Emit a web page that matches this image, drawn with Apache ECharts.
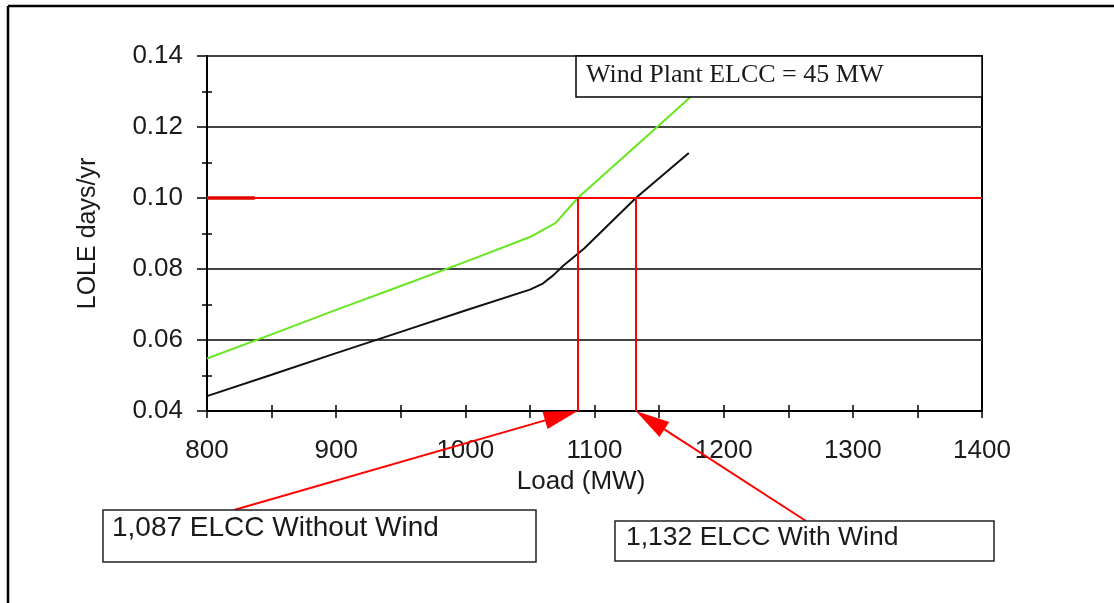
<!DOCTYPE html>
<html>
<head>
<meta charset="utf-8">
<title>LOLE vs Load</title>
<script src="https://cdn.jsdelivr.net/npm/echarts@6/dist/echarts.min.js"></script>
<style>
  html, body { margin: 0; padding: 0; background: #fff; }
  #chart { width: 1114px; height: 603px; }
</style>
</head>
<body>
<div id="chart"></div>
<script>
// Load (MW) and LOLE (days/yr) for the system without the wind plant
const loadWithoutWind = [800, 850, 900, 950, 1000, 1050, 1070, 1087, 1150, 1176];
const loleWithoutWind = [0.0548, 0.0616, 0.0685, 0.0752, 0.0820, 0.0890, 0.0930, 0.1000, 0.1205, 0.1290];

// Load (MW) and LOLE (days/yr) for the system with the wind plant
const loadWithWind = [800, 850, 900, 950, 1000, 1050, 1060, 1068, 1076, 1092, 1132, 1173];
const loleWithWind = [0.0442, 0.0502, 0.0563, 0.0623, 0.0683, 0.0742, 0.0759, 0.0782, 0.0810, 0.0858, 0.1000, 0.1127];

// Reliability target and resulting ELCC points
const targetLole = 0.10;
const elccWithoutWind = 1087;
const elccWithWind = 1132;
const windPlantElcc = elccWithWind - elccWithoutWind;

// Axis ranges and tick spacing
const xMin = 800, xMax = 1400, xTickStep = 50, xLabelStep = 100;
const yMin = 0.04, yMax = 0.14, yLabelStep = 0.02;

const SANS = '"Liberation Sans", Arial, sans-serif';
const SERIF = '"Liberation Serif", "Times New Roman", serif';

const zip = (xs, ys) => xs.map((x, i) => [x, ys[i]]);
const fmtInt = v => v.toLocaleString('en-US');

const chart = echarts.init(document.getElementById('chart'), null, { renderer: 'canvas' });

chart.setOption({
  animation: false,
  backgroundColor: '#fff',
  grid: { left: 207, right: 132, top: 56, bottom: 192, show: true, borderColor: '#000', borderWidth: 2, backgroundColor: 'transparent' },
  xAxis: [
    {
      type: 'value', min: xMin, max: xMax, interval: xTickStep, position: 'bottom',
      axisLine: { show: true, lineStyle: { color: '#000', width: 2 } },
      axisTick: { show: true, length: 7, lineStyle: { color: '#000', width: 1.5 } },
      axisLabel: {
        formatter: v => (v % xLabelStep === 0 ? String(v) : ''),
        fontFamily: SANS, fontSize: 26, color: '#1a1a1a', margin: 27
      },
      splitLine: { show: false },
      name: 'Load (MW)', nameLocation: 'middle', nameGap: 58,
      nameTextStyle: { fontFamily: SANS, fontSize: 26, color: '#1a1a1a', padding: [0, 27, 0, 0] }
    },
    {
      type: 'value', min: xMin, max: xMax, interval: xTickStep, position: 'bottom',
      axisLine: { show: false },
      axisTick: { show: true, inside: true, length: 6, lineStyle: { color: '#000', width: 1.5 } },
      axisLabel: { show: false },
      splitLine: { show: false }
    }
  ],
  yAxis: [
    {
      type: 'value', min: yMin, max: yMax, interval: yLabelStep, position: 'left',
      axisLine: { show: true, lineStyle: { color: '#000', width: 2 } },
      axisTick: { show: true, length: 10, lineStyle: { color: '#000', width: 1.5 } },
      minorTick: { show: true, splitNumber: 2, length: 5, lineStyle: { color: '#000', width: 1.5 } },
      axisLabel: {
        formatter: v => v.toFixed(2),
        fontFamily: SANS, fontSize: 26, color: '#1a1a1a', margin: 24
      },
      splitLine: { show: true, lineStyle: { color: '#444', width: 2 } },
      name: 'LOLE days/yr', nameLocation: 'middle', nameGap: 106, nameRotate: 90,
      nameTextStyle: { fontFamily: SANS, fontSize: 25, color: '#1a1a1a' }
    },
    {
      type: 'value', min: yMin, max: yMax, interval: yLabelStep, position: 'left',
      axisLine: { show: false },
      axisTick: { show: false, inside: true },
      minorTick: { show: true, splitNumber: 2, length: 5, lineStyle: { color: '#000', width: 1.5 } },
      axisLabel: { show: false },
      splitLine: { show: false }
    }
  ],
  series: [
    {
      name: 'Without Wind', type: 'line', xAxisIndex: 0, yAxisIndex: 0,
      data: zip(loadWithoutWind, loleWithoutWind),
      symbol: 'none', smooth: false, z: 4,
      lineStyle: { color: '#66e61e', width: 2 }
    },
    {
      name: 'With Wind', type: 'line', xAxisIndex: 0, yAxisIndex: 0,
      data: zip(loadWithWind, loleWithWind),
      symbol: 'none', smooth: false, z: 4,
      lineStyle: { color: '#111', width: 2 }
    },
    {
      name: 'Target', type: 'line', xAxisIndex: 0, yAxisIndex: 0, data: [], z: 3,
      markLine: {
        silent: true, symbol: ['none', 'none'], label: { show: false },
        lineStyle: { type: 'solid', color: '#ff0000', width: 2 },
        data: [
          { yAxis: targetLole },
          [{ coord: [xMin, targetLole], lineStyle: { color: '#e00000', width: 3.5 } }, { coord: [837, targetLole] }],
          [{ coord: [elccWithoutWind, yMin] }, { coord: [elccWithoutWind, targetLole] }],
          [{ coord: [elccWithWind, yMin] }, { coord: [elccWithWind, targetLole] }]
        ]
      }
    }
  ]
});

// Callout arrows from the text boxes to the ELCC points on the load axis
function arrow(tail, tip, headLen, halfWidth) {
  const dx = tip[0] - tail[0], dy = tip[1] - tail[1];
  const len = Math.hypot(dx, dy);
  const ux = dx / len, uy = dy / len;
  const bx = tip[0] - ux * headLen, by = tip[1] - uy * headLen;
  const px = -uy * halfWidth, py = ux * halfWidth;
  return [
    { type: 'line', z: 50, shape: { x1: tail[0], y1: tail[1], x2: bx, y2: by }, style: { stroke: '#ff0000', lineWidth: 2 } },
    { type: 'polygon', z: 50, shape: { points: [tip, [bx + px, by + py], [bx - px, by - py]] }, style: { fill: '#ff0000' } }
  ];
}

const tipWithout = chart.convertToPixel({ xAxisIndex: 0, yAxisIndex: 0 }, [elccWithoutWind, yMin]);
const tipWith = chart.convertToPixel({ xAxisIndex: 0, yAxisIndex: 0 }, [elccWithWind, yMin]);

function textEl(text, x, y, font) {
  return {
    type: 'text', z: 101,
    style: { text, x, y, font, fill: '#1a1a1a', align: 'left', verticalAlign: 'middle', textAlign: 'left', textVerticalAlign: 'middle' }
  };
}

chart.setOption({
  graphic: [
    // page frame
    { type: 'line', z: 1, shape: { x1: 8, y1: 6, x2: 1114, y2: 6 }, style: { stroke: '#000', lineWidth: 2.5 } },
    { type: 'line', z: 1, shape: { x1: 8, y1: 6, x2: 8, y2: 603 }, style: { stroke: '#000', lineWidth: 2.5 } },
    // wind plant box
    { type: 'rect', z: 100, shape: { x: 576, y: 56, width: 406, height: 41 }, style: { fill: '#fff', stroke: '#000', lineWidth: 1.5 } },
    textEl('Wind Plant ELCC = ' + windPlantElcc + ' MW', 586, 75, '26px ' + SERIF),
    // callout boxes
    { type: 'rect', z: 100, shape: { x: 103, y: 510, width: 433, height: 52 }, style: { fill: '#fff', stroke: '#222', lineWidth: 1.5 } },
    textEl(fmtInt(elccWithoutWind) + ' ELCC Without Wind', 112, 528, '28px ' + SANS),
    { type: 'rect', z: 100, shape: { x: 615, y: 521, width: 379, height: 40 }, style: { fill: '#fff', stroke: '#222', lineWidth: 1.5 } },
    textEl(fmtInt(elccWithWind) + ' ELCC With Wind', 626, 538, '26.5px ' + SANS),
    ...arrow([234, 510], tipWithout, 34, 9),
    ...arrow([806, 521], tipWith, 34, 9)
  ]
});
</script>
</body>
</html>
